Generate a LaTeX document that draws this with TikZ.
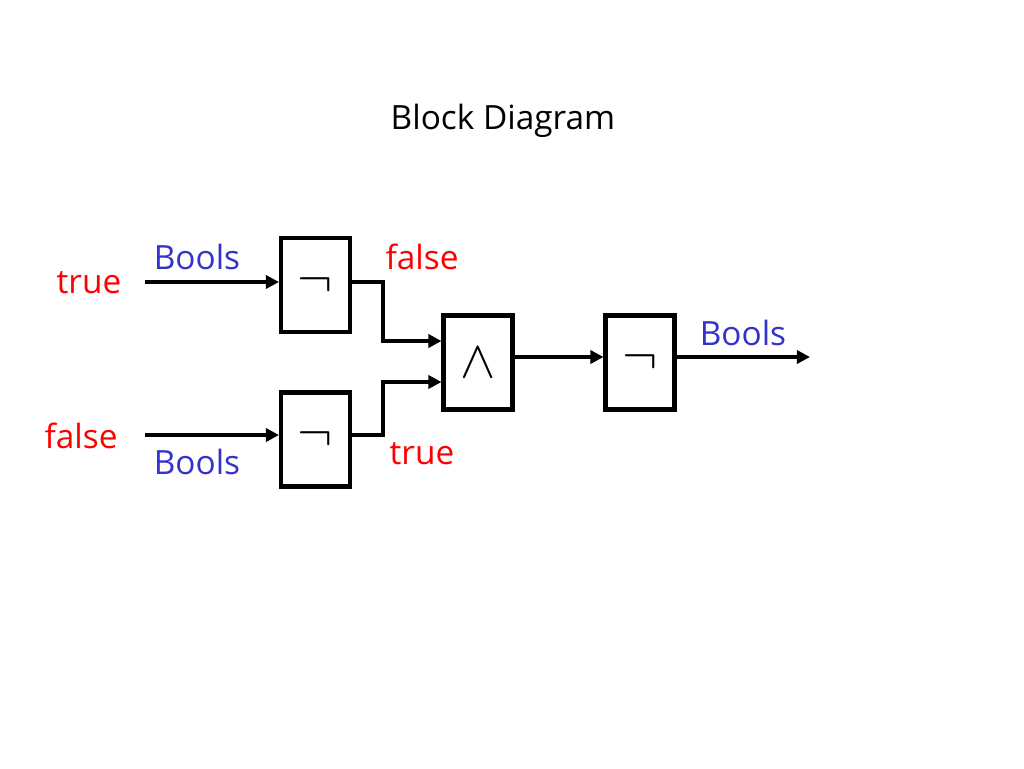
\documentclass[tikz,border=0pt]{standalone}
\usepackage{amsmath}
\usepackage{fontspec}
\setmainfont{Open Sans}
\usetikzlibrary{arrows.meta,positioning}
\definecolor{valred}{RGB}{255,0,0}
\definecolor{typeblue}{RGB}{51,51,204}
\newcommand{\gatesym}[1]{\scalebox{1.45}{$#1$}}

\begin{document}
\begin{tikzpicture}[x=0.02cm, y=-0.02cm, line width=2pt,
  gate/.style={draw, line width=2.3pt, minimum width=1.38cm, minimum height=1.88cm, inner sep=0pt, font=\huge},
  wire/.style={-{Triangle[length=7.5pt,width=7.5pt]}},
  val/.style={text=valred, font=\fontsize{19}{22}\selectfont},
  typ/.style={text=typeblue, font=\fontsize{19}{22}\selectfont}]
\useasboundingbox (0,0) rectangle (1024,768);
%\draw[step=50,gray,very thin] (0,0) grid (1024,768);
\node[font=\fontsize{19}{22}\selectfont] (title) at (503,121) {Block Diagram};%%
\node[gate] (not1) at (315.5,285) {\gatesym{\neg}};%%
\node[gate] (not2) at (315.5,439.5) {\gatesym{\neg}};%%
\node[gate] (and) at (478,362.5) {\gatesym{\wedge}};%%
\node[gate] (not3) at (640,362.5) {\gatesym{\neg}};%%
\coordinate (in1) at (145,282);%%
\coordinate (in2) at (145,435);%%
\coordinate (out) at (810,357);%%
\draw[wire] (in1) -- (in1 -| not1.west);%%
\draw[wire] (in2) -- (in2 -| not2.west);%%
\draw[wire] (not1.east |- in1) -- (383,282) -- (383,341) -- (and.west |- 0,341);%%
\draw[wire] (not2.east |- in2) -- (383,435) -- (383,382) -- (and.west |- 0,382);%%
\draw[wire] (and.east |- out) -- (not3.west |- out);%%
\draw[wire] (not3.east |- out) -- (out);%%
\node[val] (t1) at (89,283) {true};%%
\node[typ] (b1) at (197,257) {Bools};%%
\node[val] (f1) at (422,257) {false};%%
\node[val] (f2) at (81,436) {false};%%
\node[typ] (b2) at (197,462) {Bools};%%
\node[val] (t2) at (422,454) {true};%%
\node[typ] (b3) at (743,333) {Bools};%%
\end{tikzpicture}
\end{document}
